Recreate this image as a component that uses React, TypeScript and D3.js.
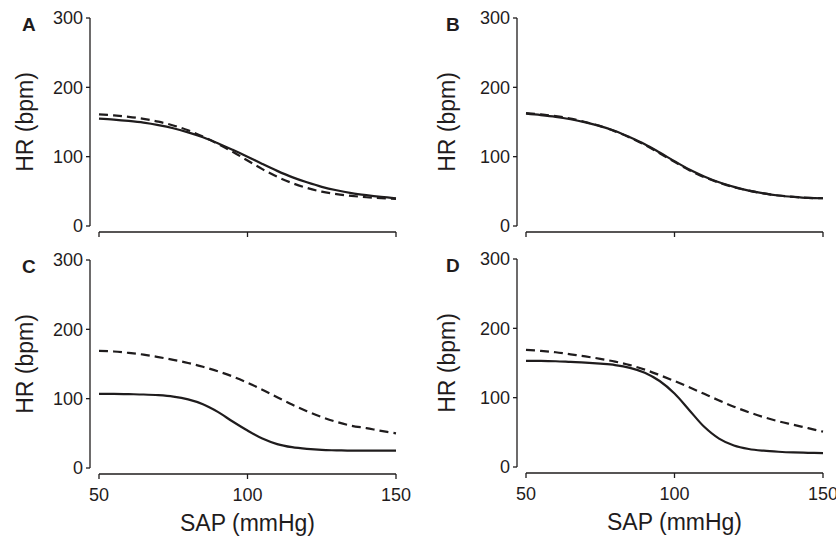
import React from 'react';
import * as d3 from 'd3';

// SAP (mmHg) sample points
const sap = [50, 55, 60, 65, 70, 75, 80, 85, 90, 95, 100, 105, 110, 115, 120, 125, 130, 135, 140, 145, 150];

// HR (bpm) values
const aSolid = [155, 153.5, 151.5, 149, 145.5, 141, 135, 128, 119.5, 110, 100, 89.5, 79.5, 70.5, 63, 56.5, 51.5, 47.5, 44.5, 42, 40];
const aDashed = [161, 159.5, 157.5, 154.5, 150.5, 145, 138, 129, 118.5, 107, 94.5, 82, 71, 62, 55, 49.5, 46, 43.5, 41.5, 40, 39];
const bSolid = [162, 160, 157.5, 154, 149.5, 144, 137, 128, 118, 106, 93.5, 81.5, 71.5, 63, 56.5, 51, 47, 44, 42, 40.5, 40];
const bDashed = [163, 161, 158.5, 155, 150, 144, 136.5, 127.5, 117, 105, 92.5, 80.5, 70.5, 62.5, 56, 51, 47, 44, 42, 40.5, 40];
const cSolid = [107, 107, 106.5, 106, 105, 103, 99, 92, 81, 67, 54, 42.5, 34.5, 30, 27.5, 26, 25.5, 25, 25, 25, 25];
const cDashed = [169, 168, 166, 163.5, 160, 156, 151.5, 146, 139.5, 132, 123, 113, 102, 91.5, 82, 73.5, 66.5, 61, 57.5, 53.5, 50];
const dSolid = [153, 153, 152.5, 151.5, 150.5, 149, 147, 143, 136, 124, 106, 82, 58, 41, 31, 26, 23.5, 22, 21, 20.5, 20];
const dDashed = [169, 167.5, 165.5, 162.5, 159.5, 156, 152, 147, 140.5, 132.5, 124, 115, 105.5, 96, 87, 79, 72, 66, 61, 56, 51];

const yTicks = [0, 100, 200, 300];
const xTicks = [50, 100, 150];
const panelLabels = ['A', 'B', 'C', 'D'];
const yTitle = 'HR (bpm)';
const xTitle = 'SAP (mmHg)';

const FONT = '"Liberation Sans", Arial, Helvetica, sans-serif';
const INK = '#1f1c1d';

type PanelProps = {
  label: string;
  left: number;
  top: number;
  solid: number[];
  dashed: number[];
  showX: boolean;
  titleX: number;
  letterX: number;
};

function Panel({ label, left, top, solid, dashed, showX, titleX, letterX }: PanelProps) {
  const x = d3.scaleLinear().domain([50, 150]).range([left + 9, left + 306]);
  const y = d3.scaleLinear().domain([0, 300]).range([top + 208, top]);
  const xAxisY = top + 214;
  const line = d3
    .line<number>()
    .x((_, i) => x(sap[i]))
    .y((d) => y(d))
    .curve(d3.curveCatmullRom.alpha(0.5));

  return (
    <g>
      {/* y axis */}
      <line x1={left} x2={left} y1={y(300)} y2={y(0)} stroke={INK} strokeWidth={1.3} />
      {yTicks.map((t) => (
        <g key={t}>
          <line x1={left - 4} x2={left} y1={y(t)} y2={y(t)} stroke={INK} strokeWidth={1.3} />
          <text x={left - 7} y={y(t)} dy="0.36em" textAnchor="end" fontSize={18} fill={INK} fontFamily={FONT}>
            {t}
          </text>
        </g>
      ))}
      {/* x axis */}
      <line x1={x(50)} x2={x(150)} y1={xAxisY} y2={xAxisY} stroke={INK} strokeWidth={1.3} />
      {xTicks.map((t) => (
        <g key={t}>
          <line x1={x(t)} x2={x(t)} y1={xAxisY} y2={xAxisY + 5} stroke={INK} strokeWidth={1.3} />
          {showX && (
            <text x={x(t)} y={xAxisY + 27} textAnchor="middle" fontSize={18} fill={INK} fontFamily={FONT}>
              {t}
            </text>
          )}
        </g>
      ))}
      {showX && (
        <text x={(x(50) + x(150)) / 2} y={xAxisY + 57} textAnchor="middle" fontSize={23} fill={INK} fontFamily={FONT}>
          {xTitle}
        </text>
      )}
      <text
        transform={`translate(${titleX},${(y(0) + y(300)) / 2}) rotate(-90)`}
        textAnchor="middle"
        fontSize={23}
        fill={INK}
        fontFamily={FONT}
      >
        {yTitle}
      </text>
      <text x={letterX} y={top + 13} fontSize={19} fontWeight="bold" fill={INK} fontFamily={FONT}>
        {label}
      </text>
      {/* curves */}
      <path d={line(dashed) || ''} fill="none" stroke={INK} strokeWidth={2.2} strokeDasharray="9,5" />
      <path d={line(solid) || ''} fill="none" stroke={INK} strokeWidth={2.2} />
    </g>
  );
}

export default function App() {
  const panels = [
    { solid: aSolid, dashed: aDashed, left: 90, top: 18, showX: false, titleX: 33, letterX: 22 },
    { solid: bSolid, dashed: bDashed, left: 517, top: 18, showX: false, titleX: 455, letterX: 446 },
    { solid: cSolid, dashed: cDashed, left: 90, top: 260, showX: true, titleX: 33, letterX: 22 },
    { solid: dSolid, dashed: dDashed, left: 517, top: 259, showX: true, titleX: 455, letterX: 446 },
  ];
  return (
    <div style={{ position: 'absolute', left: 0, top: 0 }}>
      <svg width={836} height={537} style={{ display: 'block', background: '#fff' }}>
        {panels.map((p, i) => (
          <Panel key={panelLabels[i]} label={panelLabels[i]} {...p} />
        ))}
      </svg>
    </div>
  );
}
